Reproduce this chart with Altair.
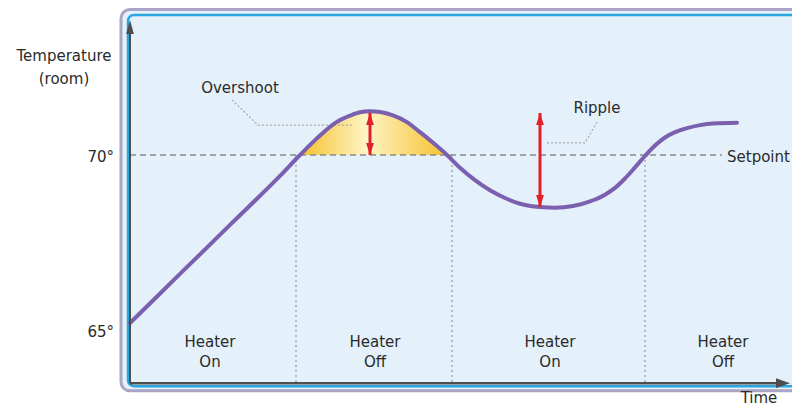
import altair as alt
import pandas as pd

# ---- data (time units, temperature in degrees) ----
curve_t = [0, 5.0, 10.0, 15.0, 17.0, 19.0, 20.5, 22.0, 23.0, 24.0, 25.0, 26.3, 27.7,
           29.0, 30.4, 31.7, 33.0, 34.5, 36.0, 37.5, 39.0, 41.0, 42.5, 44.3, 46.0,
           47.5, 48.5, 49.5, 50.5, 51.5, 52.5, 53.5, 54.5, 55.7, 57.0, 58.3, 60.7]
curve_temp = [65.00, 66.46, 67.92, 69.38, 70.00, 70.58, 70.95, 71.17, 71.27, 71.30,
              71.28, 71.18, 70.98, 70.68, 70.34, 70.00, 69.62, 69.25, 68.95, 68.72,
              68.55, 68.45, 68.43, 68.48, 68.62, 68.82, 69.02, 69.30, 69.63, 69.97,
              70.28, 70.52, 70.68, 70.80, 70.89, 70.94, 70.96]

setpoint = 70
setpoint_end = 59.2
switch_times = [16.6, 32.2, 51.5]
phase_centers = [8.0, 24.5, 42.0, 59.3]
phase_labels = ["Heater\nOn", "Heater\nOff", "Heater\nOn", "Heater\nOff"]

overshoot_t = 24
overshoot_top = 71.25
ripple_t = 41
ripple_top = 71.25
ripple_bottom = 68.45

overshoot_leader_t = [10.2, 12.8, 22.2]
overshoot_leader_temp = [71.64, 70.89, 70.89]
ripple_leader_t = [46.7, 45.5, 41.5]
ripple_leader_temp = [70.98, 70.36, 70.36]

y_tick_labels = ["70°", "65°"]

# frame / axes extents (data units)
T_DOMAIN = [-12.2, 66.2]
Y_DOMAIN = [62.5, 74.375]
axis_bottom = 63.21
axis_top = 73.81
axis_right = 65.3

X = alt.Scale(domain=T_DOMAIN, nice=False, zero=False)
Y = alt.Scale(domain=Y_DOMAIN, nice=False, zero=False)

TXT = "#2b2b2b"
FONT = "DejaVu Sans"


def xe(f):
    return alt.X(f, type="quantitative", scale=X, axis=None)


def ye(f):
    return alt.Y(f, type="quantitative", scale=Y, axis=None)


# frame
frame = pd.DataFrame({"x": [-0.9], "x2": [80], "y": [74.33], "y2": [62.98]})
outer = alt.Chart(frame).mark_rect(
    fill="#e4f0fa", stroke="#aaa5c6", strokeWidth=3, cornerRadius=9
).encode(x=xe("x"), x2="x2", y=ye("y"), y2="y2")

inner_frame = pd.DataFrame({"x": [-0.2], "x2": [80], "y": [74.17], "y2": [63.12]})
inner = alt.Chart(inner_frame).mark_rect(
    fill=None, stroke="#29a6e0", strokeWidth=2.5, cornerRadius=6
).encode(x=xe("x"), x2="x2", y=ye("y"), y2="y2")

# overshoot fill
ov = pd.DataFrame({"t": curve_t, "temp": curve_temp})
ov = ov[(ov["t"] >= 17) & (ov["t"] <= 31.7)].copy()
ov["temp"] = ov["temp"].clip(lower=setpoint)
ov["base"] = setpoint
area = alt.Chart(ov).mark_area(
    interpolate="monotone",
    color=alt.Gradient(
        gradient="linear", x1=0, x2=1, y1=0, y2=0,
        stops=[alt.GradientStop(color="#f5c12c", offset=0),
               alt.GradientStop(color="#fff4c4", offset=0.45),
               alt.GradientStop(color="#f5c12c", offset=1)],
    ),
).encode(x=xe("t"), y=ye("temp"), y2="base")

# setpoint line
sp = pd.DataFrame({"t": [0], "t2": [setpoint_end], "v": [setpoint]})
sp_line = alt.Chart(sp).mark_rule(color="#8a8a8a", strokeWidth=1.5, strokeDash=[6, 4]).encode(
    x=xe("t"), x2="t2", y=ye("v"))

# switch lines
sw = pd.DataFrame({"t": switch_times, "top": setpoint, "bot": axis_bottom})
sw_lines = alt.Chart(sw).mark_rule(color="#9a9a9a", strokeWidth=1.2, strokeDash=[2, 3]).encode(
    x=xe("t"), y=ye("top"), y2="bot")

# leader lines
lead = pd.DataFrame({
    "t": overshoot_leader_t + ripple_leader_t,
    "temp": overshoot_leader_temp + ripple_leader_temp,
    "g": ["o"] * 3 + ["r"] * 3,
    "i": [0, 1, 2, 0, 1, 2],
})
leaders = alt.Chart(lead).mark_line(color="#a8a8a8", strokeWidth=1.2, strokeDash=[2, 2]).encode(
    x=xe("t"), y=ye("temp"), detail="g:N", order="i:Q")

# curve
cv = pd.DataFrame({"t": curve_t, "temp": curve_temp, "i": range(len(curve_t))})
curve = alt.Chart(cv).mark_line(
    color="#7b60b0", strokeWidth=4, interpolate="monotone", strokeCap="round"
).encode(x=xe("t"), y=ye("temp"), order="i:Q")

# red arrows
arr = pd.DataFrame({"t": [overshoot_t, ripple_t], "top": [overshoot_top, ripple_top],
                    "bot": [setpoint, ripple_bottom]})
shafts = alt.Chart(arr).mark_rule(color="#e3202a", strokeWidth=3).encode(
    x=xe("t"), y=ye("top"), y2="bot")
heads_up = alt.Chart(arr).mark_point(
    shape="M0,0L0.65,2L-0.65,2Z", size=144, filled=True, color="#e3202a", opacity=1
).encode(x=xe("t"), y=ye("top"))
heads_dn = alt.Chart(arr).mark_point(
    shape="M0,0L0.65,-2L-0.65,-2Z", size=144, filled=True, color="#e3202a", opacity=1
).encode(x=xe("t"), y=ye("bot"))

# axes
ax = pd.DataFrame({"t": [0], "t2": [axis_right], "b": [axis_bottom], "top": [axis_top]})
x_axis = alt.Chart(ax).mark_rule(color="#4d4d4d", strokeWidth=2.5).encode(
    x=xe("t"), x2="t2", y=ye("b"))
y_axis = alt.Chart(ax).mark_rule(color="#4d4d4d", strokeWidth=2).encode(
    x=xe("t"), y=ye("b"), y2="top")
x_head = alt.Chart(ax).mark_point(
    shape="M1,0L-1,-0.7L-1,0.7Z", size=196, filled=True, color="#4d4d4d", opacity=1
).encode(x=xe("t2"), y=ye("b"))
y_head = alt.Chart(ax).mark_point(
    shape="M0,-1L0.55,1L-0.55,1Z", size=196, filled=True, color="#4d4d4d", opacity=1
).encode(x=xe("t"), y=ye("top"))

# texts
ticks = pd.DataFrame({"t": [-1.6, -1.6], "temp": [69.94, 64.73], "label": y_tick_labels})
tick_text = alt.Chart(ticks).mark_text(align="right", baseline="middle", font=FONT,
                                       fontSize=15, color=TXT).encode(
    x=xe("t"), y=ye("temp"), text="label:N")

labels = pd.DataFrame({
    "t": [-6.6, 11.0, 46.7, 59.7],
    "temp": [72.96, 71.99, 71.40, 69.94],
    "label": ["Temperature\n(room)", "Overshoot", "Ripple", "Setpoint"],
    "anchor": ["center", "center", "center", "left"],
})
lab_c = alt.Chart(labels[labels["anchor"] == "center"]).mark_text(
    align="center", baseline="middle", font=FONT, fontSize=15, color=TXT,
    lineBreak="\n", lineHeight=23).encode(x=xe("t"), y=ye("temp"), text="label:N")
lab_l = alt.Chart(labels[labels["anchor"] == "left"]).mark_text(
    align="left", baseline="middle", font=FONT, fontSize=15, color=TXT).encode(
    x=xe("t"), y=ye("temp"), text="label:N")

time_lab = pd.DataFrame({"t": [62.9], "temp": [62.62], "label": ["Time"]})
time_text = alt.Chart(time_lab).mark_text(
    align="center", baseline="alphabetic", font=FONT, fontSize=15, color=TXT).encode(
    x=xe("t"), y=ye("temp"), text="label:N")

phases = pd.DataFrame({"t": phase_centers, "temp": [64.43] * 4, "label": phase_labels})
phase_text = alt.Chart(phases).mark_text(
    align="center", baseline="middle", font=FONT, fontSize=15, color=TXT,
    lineBreak="\n", lineHeight=20).encode(x=xe("t"), y=ye("temp"), text="label:N")

chart = alt.layer(
    outer, inner, area, sp_line, sw_lines, leaders, curve, shafts, heads_up, heads_dn,
    x_axis, y_axis, x_head, y_head, tick_text, lab_c, lab_l, time_text, phase_text
).properties(
    width=784, height=399, padding=0, autosize=alt.AutoSizeParams(type="none")
).configure_view(stroke=None)

chart.save("out.html", embed_options={"renderer": "svg", "actions": False})
